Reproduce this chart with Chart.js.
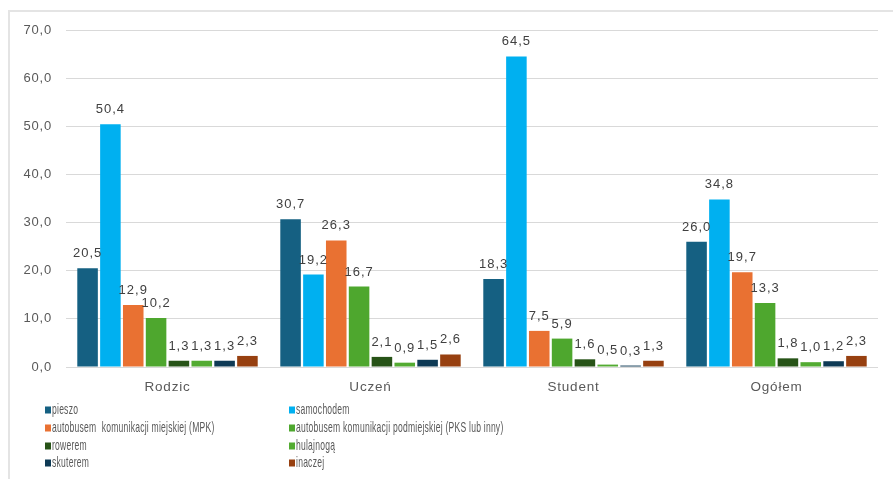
<!DOCTYPE html>
<html>
<head>
<meta charset="utf-8">
<script src="https://cdn.jsdelivr.net/npm/chart.js@4.4.1/dist/chart.umd.min.js"></script>
<style>
  html, body { margin: 0; padding: 0; background: #ffffff; }
  #wrap { position: relative; width: 893px; height: 479px; overflow: hidden; }
  #frame { position: absolute; left: 8px; top: 10px; width: 900px; height: 480px;
           border-top: 2px solid #e4e4e4; border-left: 2px solid #e4e4e4; box-sizing: border-box; }
  canvas { position: absolute; left: 0; top: 0; }
</style>
</head>
<body>
<div id="wrap">
  <div id="frame"></div>
  <canvas id="c" width="893" height="479"></canvas>
</div>
<script>
const categories = ['Rodzic', 'Uczeń', 'Student', 'Ogółem'];
const seriesNames = [
  'pieszo',
  'samochodem',
  'autobusem  komunikacji miejskiej (MPK)',
  'autobusem komunikacji podmiejskiej (PKS lub inny)',
  'rowerem',
  'hulajnogą',
  'skuterem',
  'inaczej'
];
const pieszo     = [20.5, 30.7, 18.3, 26.0];
const samochodem = [50.4, 19.2, 64.5, 34.8];
const mpk        = [12.9, 26.3, 7.5, 19.7];
const pks        = [10.2, 16.7, 5.9, 13.3];
const rowerem    = [1.3, 2.1, 1.6, 1.8];
const hulajnoga  = [1.3, 0.9, 0.5, 1.0];
const skuterem   = [1.3, 1.5, 0.3, 1.2];
const inaczej    = [2.3, 2.6, 1.3, 2.3];
const yTicks     = [0, 10, 20, 30, 40, 50, 60, 70];

const seriesValues = [pieszo, samochodem, mpk, pks, rowerem, hulajnoga, skuterem, inaczej];
const colors = ['#156082', '#00b0f0', '#e97132', '#4ea72e', '#275317', '#53ab32', '#0e3a55', '#974010'];

const fmt = v => v.toFixed(1).replace('.', ',');
const baseFont = "'Liberation Sans', Arial, sans-serif";

const labelPlugin = {
  id: 'valueLabels',
  beforeDraw(chart) {
    chart.ctx.letterSpacing = '0.8px';
  },
  afterDatasetsDraw(chart) {
    const ctx = chart.ctx;
    ctx.save();
    ctx.letterSpacing = '1px';
    ctx.font = '13px ' + baseFont;
    ctx.fillStyle = '#404040';
    ctx.textAlign = 'center';
    ctx.textBaseline = 'alphabetic';
    chart.data.datasets.forEach((ds, i) => {
      const meta = chart.getDatasetMeta(i);
      meta.data.forEach((bar, j) => {
        ctx.fillText(fmt(ds.data[j]), bar.x, bar.y - 11);
      });
    });
    ctx.restore();
  },
  afterDraw(chart) {
    const ctx = chart.ctx;
    const colX = [45, 289];
    const rowY = [410, 428, 446, 463];
    chart.data.datasets.forEach((ds, i) => {
      const cx = colX[i % 2];
      const cy = rowY[Math.floor(i / 2)];
      ctx.save();
      ctx.fillStyle = ds.backgroundColor;
      ctx.fillRect(cx, cy - 3.5, 6, 7);
      ctx.letterSpacing = '0.4px';
      ctx.font = '14.5px ' + baseFont;
      ctx.textBaseline = 'middle';
      ctx.textAlign = 'left';
      ctx.fillStyle = '#595959';
      ctx.translate(cx + 7, cy);
      ctx.scale(0.59, 1);
      ctx.fillText(ds.label, 0, 0);
      ctx.restore();
    });
  }
};

new Chart(document.getElementById('c'), {
  type: 'bar',
  data: {
    labels: categories,
    datasets: seriesNames.map((name, i) => ({
      label: name,
      data: seriesValues[i],
      backgroundColor: colors[i],
      borderWidth: 0,
      categoryPercentage: 0.9,
      barPercentage: 0.9
    }))
  },
  options: {
    responsive: false,
    animation: false,
    devicePixelRatio: 1,
    layout: { padding: { left: 0, right: 15, top: 30, bottom: 82 } },
    plugins: { legend: { display: false }, tooltip: { enabled: false } },
    scales: {
      x: {
        grid: { display: false, drawTicks: false },
        border: { display: false },
        ticks: { color: '#595959', font: { size: 13.5, family: baseFont }, padding: 12 },
        afterFit(scale) { scale.height = 30; }
      },
      y: {
        min: 0, max: 70,
        afterBuildTicks(scale) { scale.ticks = yTicks.map(v => ({ value: v })); },
        grid: { color: '#d9d9d9', lineWidth: 1, drawTicks: false },
        border: { display: false },
        ticks: { color: '#595959', font: { size: 13, family: baseFont }, padding: 14, callback: v => fmt(v) },
        afterFit(scale) { scale.width = 66; }
      }
    }
  },
  plugins: [labelPlugin]
});
</script>
</body>
</html>
